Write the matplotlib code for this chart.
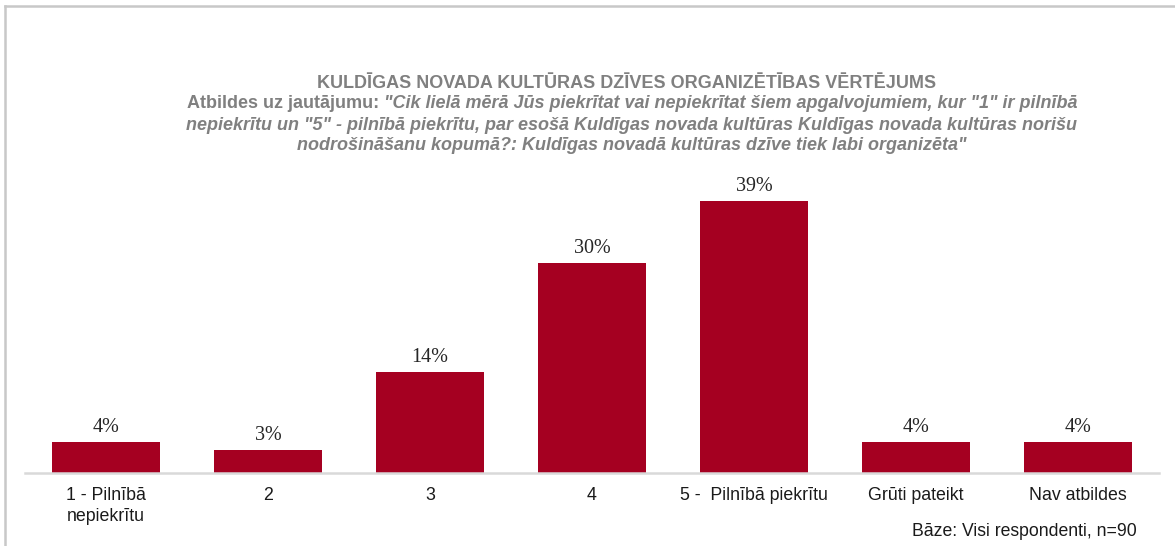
import matplotlib
matplotlib.use("Agg")
import matplotlib.pyplot as plt
from matplotlib.lines import Line2D

categories = ["1 - Pilnībā\nnepiekrītu", "2", "3", "4", "5 -  Pilnībā piekrītu",
              "Grūti pateikt", "Nav atbildes"]
values = [4.4, 3.3, 14.4, 30.0, 38.9, 4.4, 4.4]
labels = ["4%", "3%", "14%", "30%", "39%", "4%", "4%"]

title = "KULDĪGAS NOVADA KULTŪRAS DZĪVES ORGANIZĒTĪBAS VĒRTĒJUMS"
sub_lead = "Atbildes uz jautājumu: "
sub_lines = ['"Cik lielā mērā Jūs piekrītat vai nepiekrītat šiem apgalvojumiem, kur "1" ir pilnībā',
             'nepiekrītu un "5" - pilnībā piekrītu, par esošā Kuldīgas novada kultūras Kuldīgas novada kultūras norišu',
             'nodrošināšanu kopumā?: Kuldīgas novadā kultūras dzīve tiek labi organizēta"']
base_note = "Bāze: Visi respondenti, n=90"

bar_color = "#A50021"
gray = "#808080"
sans = "Liberation Sans"
serif = "Liberation Serif"

W, H = 1175, 546
fig = plt.figure(figsize=(W / 100, H / 100), dpi=100)

# axes placed in pixel terms
x0, x1 = 25, 1159
y_axis, y_top = 473, 158
ax = fig.add_axes([x0 / W, 1 - y_axis / H, (x1 - x0) / W, (y_axis - y_top) / H])

xs = range(len(categories))
ax.bar(xs, values, width=0.667, color=bar_color)
for x, v, lab in zip(xs, values, labels):
    ax.annotate(lab, (x, v), xytext=(0, 7), textcoords="offset points",
                ha="center", va="baseline", fontsize=14.5, family=serif, color="#262626")

ax.set_xlim(-0.5, len(categories) - 0.5)
ax.set_ylim(0, 45)
ax.set_yticks([])
ax.set_xticks(list(xs))
ax.set_xticklabels(categories, fontsize=12.8, family=sans, color="#1a1a1a", linespacing=1.35)
ax.tick_params(axis="x", length=0, pad=10)
for s in ["top", "right", "left"]:
    ax.spines[s].set_visible(False)
ax.spines["bottom"].set_color("#d9d9d9")
ax.spines["bottom"].set_linewidth(1.8)

# outer frame (top and left edges visible)
fig.add_artist(Line2D([5 / W, 5 / W], [0, 1 - 6 / H], color="#c8c8c8", lw=1.8))
fig.add_artist(Line2D([5 / W, 1], [1 - 6 / H, 1 - 6 / H], color="#c8c8c8", lw=1.8))

# titles
cx = 632 / W
fig.text(627 / W, 1 - 84 / H, title, ha="center", va="center", fontsize=13,
         fontweight="bold", family=sans, color=gray)

fig.canvas.draw()
r = fig.canvas.get_renderer()
line_y = [104, 125, 146]
for i, (txt, yy) in enumerate(zip(sub_lines, line_y)):
    parts = []
    if i == 0:
        parts.append((sub_lead, "normal"))
    parts.append((txt, "italic"))
    tmp = [fig.text(0, 0, p, fontsize=13, fontweight="bold", style=st, family=sans)
           for p, st in parts]
    widths = [t.get_window_extent(r).width for t in tmp]
    for t in tmp:
        t.remove()
    start = cx * W - sum(widths) / 2
    for (p, st), w in zip(parts, widths):
        fig.text(start / W, 1 - yy / H, p, ha="left", va="center", fontsize=13,
                 fontweight="bold", style=st, family=sans, color=gray)
        start += w

fig.text(1137 / W, 1 - 532 / H, base_note, ha="right", va="center",
         fontsize=12.7, family=sans, color="#1a1a1a")

fig.savefig("out.png", dpi=100)
